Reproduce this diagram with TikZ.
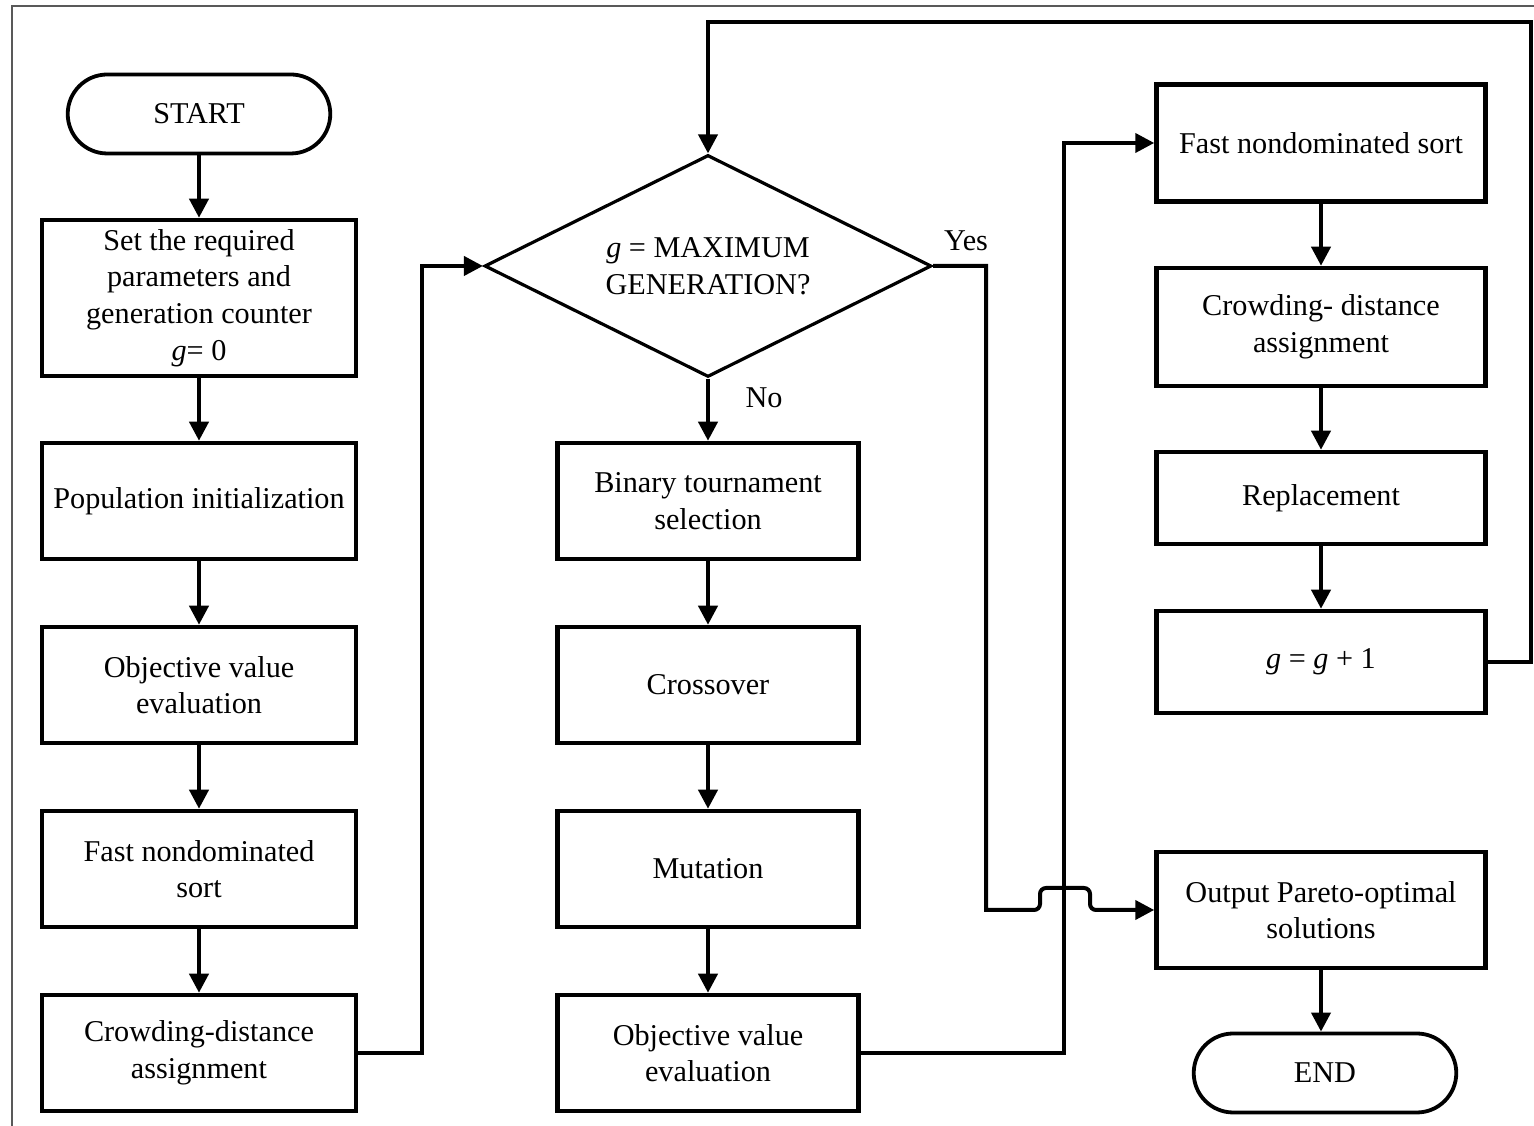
\documentclass[tikz,border=0pt]{standalone}
\usepackage{fontspec}
\setmainfont{Liberation Serif}
\usetikzlibrary{shapes.geometric, shapes.misc, arrows.meta}

\begin{document}
\begin{tikzpicture}[x=0.1mm, y=-0.1mm,
    every node/.style={font=\fontsize{8.6}{10.4}\selectfont, align=center},
    box/.style={draw, line width=0.45mm, minimum width=31.4mm, minimum height=11.6mm, inner sep=0.5mm},
    term/.style={draw, rounded rectangle, line width=0.38mm, minimum width=28.6mm, minimum height=7.9mm},
    link/.style={line width=0.4mm},
    arrow/.style={link, -{Triangle[length=1.9mm, width=1.9mm]}}]
      \useasboundingbox (0, 0) rectangle (1534, 1126);
      \clip (0, 0) rectangle (1534, 1126);
      \draw[gray!70!black, line width=0.15mm] (12, 6) rectangle (1600, 1200);

      % left column
      \node[term] (start) at (199, 114) {START};
      \node[box, minimum height=15.6mm] (init) at (199, 298) {Set the required\\parameters and\\generation counter\\\textit{g}= 0};
      \node[box] (pop) at (199, 501) {Population initialization};
      \node[box] (obj1) at (199, 685) {Objective value\\evaluation};
      \node[box] (sort1) at (199, 869) {Fast nondominated\\sort};
      \node[box] (crowd1) at (199, 1053) {Crowding-distance\\assignment};

      % middle column
      \node[draw, diamond, aspect=2, line width=0.32mm, minimum width=44.7mm, minimum height=22.2mm, inner sep=0] (dec) at (708, 266) {\textit{g} = MAXIMUM\\GENERATION?};
      \node[box, minimum width=30.1mm] (sel) at (708, 501) {Binary tournament\\selection};
      \node[box, minimum width=30.1mm] (cross) at (708, 685) {Crossover};
      \node[box, minimum width=30.1mm] (mut) at (708, 869) {Mutation};
      \node[box, minimum width=30.1mm] (obj2) at (708, 1053) {Objective value\\evaluation};
      \node (yes) at (966, 241) {Yes};
      \node (no) at (764, 398) {No};

      % right column
      \node[box, minimum width=32.9mm, minimum height=11.7mm] (sort2) at (1321, 143) {Fast nondominated sort};
      \node[box, minimum width=32.9mm, minimum height=11.8mm] (crowd2) at (1321, 327) {Crowding- distance\\assignment};
      \node[box, minimum width=32.9mm, minimum height=9.2mm] (repl) at (1321, 498) {Replacement};
      \node[box, minimum width=32.9mm, minimum height=10.2mm] (inc) at (1321, 662) {\textit{g} = \textit{g} + 1};
      \node[box, minimum width=32.9mm] (out) at (1321, 910) {Output Pareto-optimal\\solutions};
      \node[term] (end) at (1325, 1073) {END};

      % corner points
      \coordinate (up1) at (422, 266);
      \coordinate (up2) at (1064, 143);
      \coordinate (loop) at (1531, 22);
      \coordinate (yesdown) at (986, 910);
      \coordinate (hop) at (1040, 888);

      \draw[arrow] (start.south) -- (init.north);
      \draw[arrow] (init.south) -- (pop.north);
      \draw[arrow] (pop.south) -- (obj1.north);
      \draw[arrow] (obj1.south) -- (sort1.north);
      \draw[arrow] (sort1.south) -- (crowd1.north);
      \draw[arrow] (crowd1.east) -| (up1) -- (dec.west);

      \draw[arrow] (dec.south) -- (sel.north);
      \draw[arrow] (sel.south) -- (cross.north);
      \draw[arrow] (cross.south) -- (mut.north);
      \draw[arrow] (mut.south) -- (obj2.north);
      \draw[arrow] (obj2.east) -| (up2) -- (sort2.west);

      \draw[arrow] (sort2.south) -- (crowd2.north);
      \draw[arrow] (crowd2.south) -- (repl.north);
      \draw[arrow] (repl.south) -- (inc.north);
      \draw[arrow] (inc.east) -| (loop) -| (dec.north);

      \draw[arrow] (dec.east) -| (yesdown) [rounded corners=0.6mm] -- (hop |- yesdown) -- (hop) -- ++(50, 0) |- (out.west);
      \draw[arrow] (out.south) -- (out.south |- end.north);
\end{tikzpicture}
\end{document}
